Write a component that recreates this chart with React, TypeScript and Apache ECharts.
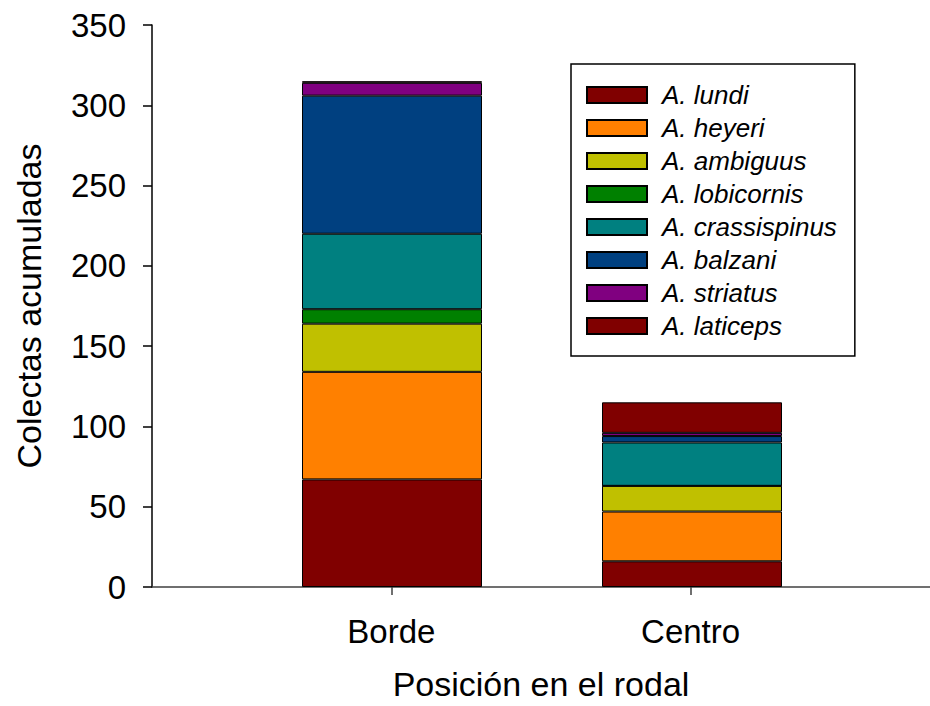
import React, { useEffect, useRef } from "react";
import * as echarts from "echarts";

const categories = ["Borde", "Centro"];
const categoryPositions = [1, 2];
const speciesNames = [
  "A. lundi",
  "A. heyeri",
  "A. ambiguus",
  "A. lobicornis",
  "A. crassispinus",
  "A. balzani",
  "A. striatus",
  "A. laticeps",
];
const lundi = [67, 16];
const heyeri = [67, 31];
const ambiguus = [30, 16];
const lobicornis = [9, 0];
const crassispinus = [47, 27];
const balzani = [86, 4];
const striatus = [8, 2];
const laticeps = [1, 19];
const yTicks = [0, 50, 100, 150, 200, 250, 300, 350];

const seriesValues = [lundi, heyeri, ambiguus, lobicornis, crassispinus, balzani, striatus, laticeps];
const colors = ["#800000", "#FF8000", "#C0C000", "#008000", "#008080", "#004080", "#800080", "#800000"];

const FONT = "'Liberation Sans', Arial, Helvetica, sans-serif";

export default function App() {
  const ref = useRef<HTMLDivElement>(null);
  useEffect(() => {
    if (!ref.current) return;
    const chart = echarts.init(ref.current, undefined, { renderer: "svg" });
    const yMin = yTicks[0];
    const yMax = yTicks[yTicks.length - 1];
    chart.setOption({
      animation: false,
      backgroundColor: "#ffffff",
      grid: [
        { left: 152, top: 25, width: 780, height: 562, containLabel: false },
        { left: 242, top: 25, width: 600, height: 562, containLabel: false },
      ],
      xAxis: [
        {
          type: "value",
          gridIndex: 0,
          min: 0.2,
          max: 2.8,
          name: "Posición en el rodal",
          nameLocation: "middle",
          nameGap: 80,
          nameTextStyle: { fontSize: 34, fontFamily: FONT, color: "#000" },
          axisLine: { show: true, onZero: false, lineStyle: { color: "#404040", width: 1.5 } },
          axisTick: { show: true, customValues: categoryPositions, length: 8, lineStyle: { color: "#404040", width: 1.5 } },
          axisLabel: {
            customValues: categoryPositions,
            formatter: (v: number) => categories[categoryPositions.indexOf(v)] ?? "",
            fontSize: 33,
            fontFamily: FONT,
            color: "#000",
            margin: 28,
          },
          splitLine: { show: false },
        },
        {
          type: "category",
          gridIndex: 1,
          data: categories,
          show: false,
        },
      ],
      yAxis: [
        {
          type: "value",
          gridIndex: 0,
          min: yMin,
          max: yMax,
          interval: 50,
          name: "Colectas acumuladas",
          nameLocation: "middle",
          nameGap: 106,
          nameTextStyle: { fontSize: 34, fontFamily: FONT, color: "#000" },
          axisLine: { show: true, lineStyle: { color: "#000", width: 1.5 } },
          axisTick: { show: true, length: 9, lineStyle: { color: "#000", width: 1.5 } },
          axisLabel: { fontSize: 33, fontFamily: FONT, color: "#000", margin: 26 },
          splitLine: { show: false },
        },
        {
          type: "value",
          gridIndex: 1,
          min: yMin,
          max: yMax,
          interval: 50,
          show: false,
          splitLine: { show: false },
        },
      ],
      legend: {
        orient: "vertical",
        left: 571,
        top: 64,
        itemWidth: 60,
        itemHeight: 16,
        itemGap: 7,
        icon: "rect",
        borderColor: "#000",
        borderWidth: 1.5,
        backgroundColor: "#fff",
        padding: [18, 18, 17, 15],
        textStyle: {
          fontSize: 26,
          lineHeight: 26,
          fontStyle: "italic",
          fontFamily: FONT,
          color: "#000",
          padding: [0, 0, 0, 10],
        },
        data: speciesNames,
      },
      series: speciesNames.map((name, i) => ({
        name,
        type: "bar",
        xAxisIndex: 1,
        yAxisIndex: 1,
        stack: "total",
        barWidth: 180,
        itemStyle: { color: colors[i], borderColor: "#000", borderWidth: 1 },
        emphasis: { disabled: true },
        data: seriesValues[i],
      })),
    });
    return () => chart.dispose();
  }, []);
  return (
    <div
      ref={ref}
      style={{ position: "absolute", left: 0, top: 0, width: 930, height: 706 }}
    />
  );
}
